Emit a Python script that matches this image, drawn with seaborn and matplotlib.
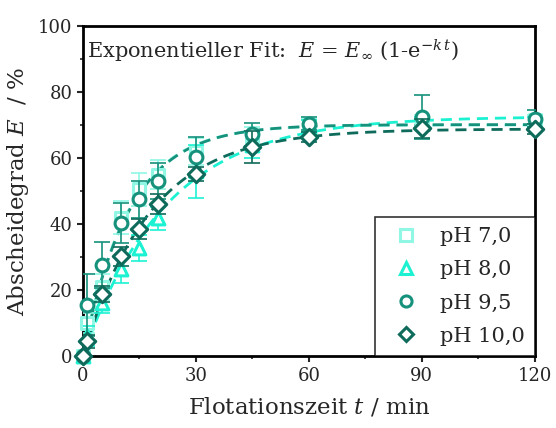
import numpy as np
import pandas as pd
import seaborn as sns
import matplotlib
matplotlib.use("Agg")
import matplotlib.pyplot as plt
from matplotlib.lines import Line2D

# flotation time in min
t = [0, 1, 5, 10, 15, 20, 30, 45, 60, 90, 120]

labels = ["pH 7,0", "pH 8,0", "pH 9,5", "pH 10,0"]
colors = ["#8ff7e4", "#1cf2d2", "#16917c", "#0e6b5b"]
markers = ["s", "^", "o", "D"]

# Abscheidegrad E in %
E_ph70 = [0.0, 10.0, 21.0, 42.0, 50.5, 55.0, 62.0, 66.5, 70.0, 71.0, 71.5]
E_ph80 = [0.0, 6.0, 16.0, 26.3, 32.7, 41.8, 56.0, 64.0, 69.5, 70.5, 71.0]
E_ph95 = [0.0, 15.5, 27.6, 40.3, 47.5, 53.0, 60.3, 67.2, 70.4, 72.4, 72.0]
E_ph100 = [0.0, 4.5, 18.8, 30.2, 38.6, 46.0, 55.2, 63.4, 66.4, 69.0, 68.8]

err_ph70 = [0.0, 3.0, 4.0, 5.0, 5.0, 4.5, 4.0, 3.0, 2.0, 2.0, 1.5]
err_ph80 = [0.0, 3.0, 3.0, 4.0, 4.0, 3.5, 8.0, 4.0, 2.0, 2.0, 1.5]
err_ph95 = [0.0, 9.5, 7.0, 6.0, 5.5, 5.5, 6.0, 3.5, 2.0, 6.6, 2.5]
err_ph100 = [0.0, 2.0, 2.5, 3.0, 3.0, 3.0, 2.0, 4.8, 1.5, 2.8, 1.5]

values = [E_ph70, E_ph80, E_ph95, E_ph100]
errors = [err_ph70, err_ph80, err_ph95, err_ph100]

rows = []
for lab, ys, es in zip(labels, values, errors):
    for ti, yi, ei in zip(t, ys, es):
        rows.append({"t": ti, "E": yi, "err": ei, "pH": lab})
df = pd.DataFrame(rows)


def exp_fit(tt, yy):
    # least squares fit of E = Einf * (1 - exp(-k t))
    tt = np.asarray(tt, float)
    yy = np.asarray(yy, float)
    best = None
    for k in np.linspace(0.005, 0.5, 2000):
        f = 1 - np.exp(-k * tt)
        einf = (yy * f).sum() / (f * f).sum()
        sse = ((yy - einf * f) ** 2).sum()
        if best is None or sse < best[0]:
            best = (sse, einf, k)
    return best[1], best[2]


sns.set_style("ticks")
plt.rcParams["font.family"] = ["DejaVu Serif"]
plt.rcParams["mathtext.fontset"] = "dejavuserif"

fig = plt.figure(figsize=(5.56, 4.28), dpi=100)
ax = fig.add_axes([0.149, 0.168, 0.813, 0.771])

t_fine = np.linspace(0, 120, 300)
for lab, col in zip(labels, colors):
    sub = df[df["pH"] == lab]
    einf, k = exp_fit(sub["t"], sub["E"])
    fit = pd.DataFrame({"t": t_fine, "E": einf * (1 - np.exp(-k * t_fine))})
    sns.lineplot(data=fit, x="t", y="E", ax=ax, color=col, lw=2,
                 dashes=(4, 2.5), zorder=2)

for i, (lab, col, m) in enumerate(zip(labels, colors, markers)):
    sub = df[df["pH"] == lab]
    ax.errorbar(sub["t"], sub["E"], yerr=sub["err"], fmt="none", ecolor=col,
                elinewidth=1.2, capsize=6, capthick=1.2, zorder=3 + i)
    sns.scatterplot(data=sub, x="t", y="E", ax=ax, marker=m,
                    s=85 if m != "D" else 70, facecolor="white",
                    edgecolor=col, linewidth=2.2, zorder=3 + i, clip_on=False)

ax.set_xlim(0, 120)
ax.set_ylim(0, 100)
ax.set_xticks([0, 30, 60, 90, 120])
ax.set_xticks([15, 45, 75, 105], minor=True)
ax.set_yticks([0, 20, 40, 60, 80, 100])
ax.set_yticks([10, 30, 50, 70, 90], minor=True)
ax.tick_params(which="major", direction="out", length=4, width=1.5, labelsize=13)
ax.tick_params(which="minor", direction="out", length=2.5, width=1.2)
for sp in ax.spines.values():
    sp.set_visible(True)
    sp.set_linewidth(2)
    sp.set_color("black")

ax.set_xlabel("Flotationszeit $t$ / min", fontsize=16.5, labelpad=8)
ax.set_ylabel("Abscheidegrad $E$  / %", fontsize=16.5, labelpad=5)

ax.text(0.01, 0.965, r"Exponentieller Fit:  $E$ = $E_\infty$ (1-e$^{-k\,t}$)",
        transform=ax.transAxes, fontsize=15, va="top", ha="left")

handles = [Line2D([], [], ls="none", marker=m, markersize=8 if m != "D" else 7,
                  markerfacecolor="white", markeredgecolor=c, markeredgewidth=2.2)
           for c, m in zip(colors, markers)]
leg = ax.legend(handles, labels, loc="lower right", fontsize=15, frameon=True,
                fancybox=False, borderaxespad=0, labelspacing=0.68,
                handletextpad=0.6, borderpad=0.5)
leg.get_frame().set_edgecolor("black")
leg.get_frame().set_linewidth(1.2)

fig.savefig("out.png", dpi=100)
